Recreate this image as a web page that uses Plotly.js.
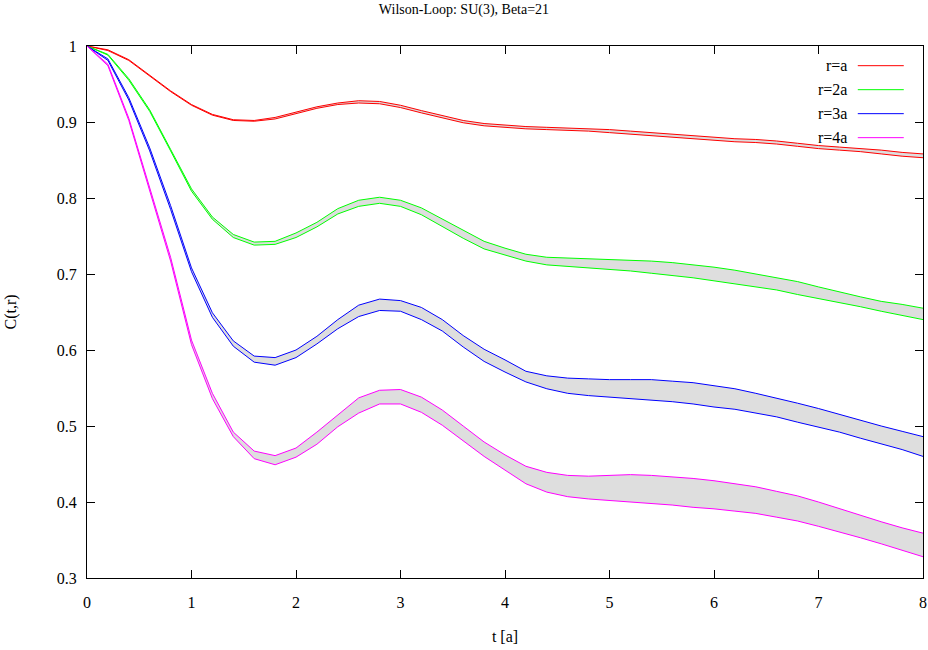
<!DOCTYPE html>
<html>
<head>
<meta charset="utf-8">
<script src="https://cdn.plot.ly/plotly-3.0.1.min.js"></script>
<style>html,body{margin:0;padding:0;background:#fff;}#chart{width:928px;height:650px;}</style>
</head>
<body>
<div id="chart"></div>
<script>
// t in lattice units a
const tValues = [0,0.2,0.4,0.6,0.8,1.0,1.2,1.4,1.6,1.8,2.0,2.2,2.4,2.6,2.8,3.0,3.2,3.4,3.6,3.8,4.0,4.2,4.4,4.6,4.8,5.0,5.2,5.4,5.6,5.8,6.0,6.2,6.4,6.6,6.8,7.0,7.2,7.4,7.6,7.8,8.0];

// r = a : upper / lower edge of error band
const r1Upper = [1.000,0.995,0.982,0.961,0.941,0.923,0.910,0.903,0.902,0.906,0.913,0.920,0.925,0.928,0.927,0.922,0.915,0.908,0.902,0.898,0.896,0.894,0.893,0.892,0.891,0.890,0.888,0.886,0.884,0.882,0.880,0.878,0.877,0.875,0.872,0.869,0.867,0.865,0.863,0.860,0.858];
const r1Lower = [1.000,0.994,0.981,0.960,0.940,0.922,0.909,0.902,0.901,0.904,0.911,0.918,0.923,0.925,0.924,0.919,0.912,0.905,0.899,0.895,0.893,0.891,0.890,0.889,0.888,0.886,0.884,0.882,0.880,0.878,0.876,0.874,0.873,0.871,0.868,0.865,0.863,0.861,0.858,0.855,0.853];

// r = 2a
const r2Upper = [1.000,0.989,0.957,0.916,0.864,0.812,0.775,0.752,0.742,0.743,0.754,0.768,0.786,0.797,0.801,0.797,0.787,0.772,0.757,0.743,0.734,0.726,0.722,0.721,0.720,0.719,0.718,0.717,0.715,0.712,0.709,0.705,0.700,0.695,0.690,0.683,0.676,0.670,0.664,0.660,0.655];
const r2Lower = [1.000,0.988,0.955,0.914,0.862,0.809,0.772,0.748,0.738,0.739,0.748,0.762,0.779,0.789,0.793,0.789,0.778,0.762,0.747,0.733,0.725,0.717,0.712,0.710,0.708,0.706,0.704,0.701,0.698,0.695,0.691,0.687,0.683,0.679,0.673,0.668,0.663,0.657,0.651,0.646,0.640];

// r = 3a
const r3Upper = [1.000,0.983,0.932,0.866,0.790,0.708,0.649,0.612,0.592,0.590,0.600,0.618,0.640,0.659,0.667,0.665,0.656,0.640,0.619,0.601,0.587,0.572,0.566,0.563,0.562,0.561,0.561,0.561,0.559,0.557,0.553,0.549,0.543,0.537,0.530,0.523,0.515,0.508,0.500,0.493,0.486];
const r3Lower = [1.000,0.981,0.929,0.862,0.785,0.703,0.643,0.605,0.584,0.580,0.590,0.608,0.628,0.644,0.652,0.651,0.640,0.625,0.604,0.585,0.571,0.558,0.549,0.543,0.540,0.538,0.536,0.534,0.532,0.529,0.525,0.522,0.517,0.512,0.505,0.499,0.492,0.484,0.477,0.469,0.460];

// r = 4a
const r4Upper = [1.000,0.976,0.905,0.814,0.722,0.613,0.543,0.492,0.467,0.461,0.471,0.492,0.515,0.537,0.547,0.548,0.538,0.521,0.500,0.479,0.462,0.447,0.439,0.435,0.434,0.435,0.436,0.435,0.433,0.431,0.428,0.424,0.420,0.414,0.408,0.400,0.391,0.382,0.374,0.366,0.359];
const r4Lower = [1.000,0.974,0.902,0.810,0.717,0.607,0.536,0.486,0.457,0.449,0.459,0.476,0.499,0.517,0.529,0.529,0.518,0.501,0.481,0.460,0.442,0.424,0.413,0.407,0.404,0.402,0.400,0.398,0.396,0.393,0.391,0.388,0.385,0.380,0.375,0.368,0.361,0.353,0.345,0.336,0.328];

const seriesNames = ['r=a','r=2a','r=3a','r=4a'];
const uppers = [r1Upper, r2Upper, r3Upper, r4Upper];
const lowers = [r1Lower, r2Lower, r3Lower, r4Lower];
const colors = ['#ff0000','#00ff00','#0000ff','#ff00ff'];
const bandColor = '#dedede';

const traces = [];
seriesNames.forEach((name, i) => {
  traces.push({x: tValues, y: lowers[i], type: 'scatter', mode: 'lines', name: name,
    line: {color: colors[i], width: 1}, showlegend: false, hoverinfo: 'x+y+name'});
  traces.push({x: tValues, y: uppers[i], type: 'scatter', mode: 'lines', name: name,
    line: {color: colors[i], width: 1}, fill: 'tonexty', fillcolor: bandColor,
    showlegend: false, hoverinfo: 'x+y+name'});
});

const serif = 'Liberation Serif';

// gnuplot-style key: text right-aligned, line sample to the right
const keyTop = 0.963, keyStep = 0.0451;
const annotations = seriesNames.map((name, i) => ({
  xref: 'paper', yref: 'paper', x: 0.911, y: keyTop - i * keyStep,
  xanchor: 'right', yanchor: 'middle', text: name, showarrow: false,
  font: {family: serif, size: 16, color: '#000'}
}));
const shapes = seriesNames.map((name, i) => ({
  type: 'line', xref: 'paper', yref: 'paper',
  x0: 0.922, x1: 0.977, y0: keyTop - i * keyStep, y1: keyTop - i * keyStep,
  line: {color: colors[i], width: 1}
}));

const axisCommon = {
  showline: true, linecolor: '#000', linewidth: 1, mirror: 'ticks',
  ticks: 'inside', ticklen: 8, tickwidth: 1, tickcolor: '#000',
  showgrid: false, zeroline: false,
  tickfont: {family: serif, size: 16, color: '#000'}
};

const layout = {
  width: 928, height: 650,
  margin: {l: 87, r: 5, t: 46, b: 72},
  paper_bgcolor: '#fff', plot_bgcolor: '#fff',
  showlegend: false,
  font: {family: serif, color: '#000'},
  title: {text: 'Wilson-Loop: SU(3), Beta=21', font: {family: serif, size: 14, color: '#000'},
    x: 0.5, xref: 'container', xanchor: 'center', y: 1 - 9/650, yref: 'container', yanchor: 'middle'},
  xaxis: Object.assign({}, axisCommon, {
    range: [0, 8], dtick: 1, tick0: 0, ticklabelstandoff: 10,
    title: {text: 't [a]', font: {family: serif, size: 16, color: '#000'}, standoff: 20}
  }),
  yaxis: Object.assign({}, axisCommon, {
    range: [0.3, 1], dtick: 0.1, tick0: 0.3, ticklabelstandoff: 6,
    title: {text: 'C(t,r)', font: {family: serif, size: 16, color: '#000'}, standoff: 36}
  }),
  annotations: annotations,
  shapes: shapes
};

Plotly.newPlot('chart', traces, layout, {displayModeBar: false, staticPlot: true});
</script>
</body>
</html>
